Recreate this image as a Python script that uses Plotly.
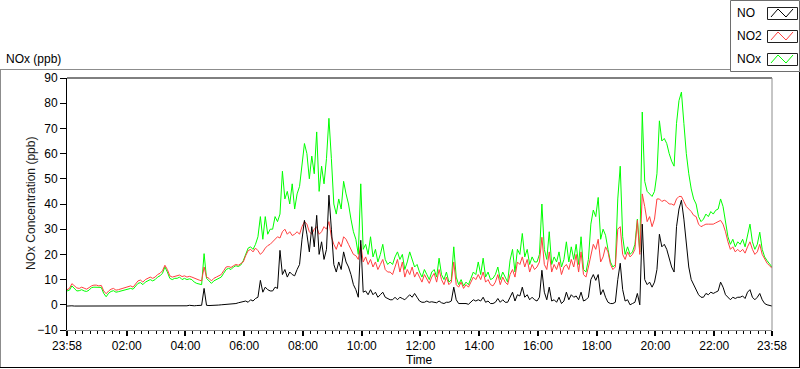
import pandas as pd
import plotly.graph_objects as go

# ---- data (5-minute samples, 23:58 -> 23:58 next day) ----
start_time = "2020-01-01 23:58"
sample_minutes = 5

no2 = [
    6, 6.5, 8.4, 7.5, 6.7, 6.5, 7, 6.6, 6.2, 6.8, 7.5, 7.8,
    7.8, 7.5, 7.7, 5.5, 4.4, 5.5, 6.2, 6.5, 5.8, 6, 6.3, 6.5,
    7, 7.3, 7.5, 7, 8.5, 9.5, 9.8, 9, 10, 10.5, 11, 10.5,
    11, 12, 12.5, 13.5, 15.7, 14, 11.5, 11, 11.3, 11.5, 11.8, 11.2,
    11.5, 11, 11.3, 11, 10.5, 10, 9.8, 9.5, 15, 11, 10.5, 9.5,
    10.5, 11, 11.5, 12, 13.5, 15, 15.2, 14.8, 15.5, 16, 15.7, 16.3,
    17, 19.5, 21.5, 22, 21, 22.5, 21.5, 20, 21, 22.5, 23.5, 24,
    25, 26, 27, 26.5, 29, 30, 28, 29, 27.5, 28, 29, 28,
    31, 33, 32, 29, 28, 30, 31, 28, 29, 31, 30, 33,
    27, 24, 22, 25, 23, 27, 26, 24, 22, 20, 19.5, 18,
    24, 17, 19, 16, 18, 15, 17, 14, 16, 18, 14, 13,
    13, 12, 15, 18, 13, 17, 11, 14, 12, 15, 11, 13,
    11, 9, 12, 10, 8.5, 11, 12.5, 9, 14, 10, 8, 11,
    8, 9, 17, 8, 7, 9, 6.5, 8, 7, 9, 11, 10,
    12, 10, 13, 9, 10, 8, 7.5, 9, 12, 8, 11, 9,
    8, 12, 14, 11, 17, 16, 19, 15, 18, 13, 16, 14,
    15, 17, 26.8, 16, 14, 21, 13, 16, 14, 17, 12, 15,
    16, 14, 18, 15, 20, 13, 21, 12, 11, 15, 20, 24,
    22, 26, 17, 19, 23, 21, 16, 14, 15, 30, 31, 20,
    18, 21, 19, 20, 22, 33.5, 20, 44, 39, 33, 35, 31,
    34, 42, 42, 41, 41.5, 41, 40, 40, 39.5, 42, 43, 43,
    41, 39, 38, 37, 35.5, 35, 32, 31, 31.5, 32, 32, 32,
    32, 32.5, 33, 33.5, 32, 29, 25, 22, 23, 21, 22, 21,
    22, 20.5, 23, 25, 22, 20, 21, 24, 20, 18, 16.5, 15.5, 14.5,
]

nox = [
    5.5, 5.8, 7.5, 6.5, 5.5, 5.6, 6, 5.5, 5.3, 5.8, 6.8, 7,
    7, 6.8, 6.9, 4.5, 3.2, 4.6, 5.3, 5.6, 5, 5.2, 5.5, 5.6,
    6, 6.2, 6.5, 6.2, 7.5, 8.5, 8.8, 8, 9, 9.5, 10, 9.5,
    10, 11, 11.5, 12.5, 15, 13, 10.5, 10, 10.5, 10.5, 11, 10,
    10.5, 10, 10.3, 10, 9, 8.5, 8.3, 8, 20.3, 10.5, 9.5, 8.5,
    9.5, 10, 10.5, 11, 12.5, 14, 14.5, 14, 15, 15.5, 15.2, 15.8,
    17.5, 20, 22.5, 23, 22, 24, 27, 35, 26, 35, 28, 30,
    30, 35, 33, 36, 53, 42, 45, 40, 48, 38, 44, 47,
    57, 64, 60, 50, 59, 52, 68.6, 45, 55, 48, 58, 74,
    58, 40, 36, 42, 38, 49, 44, 40, 34, 29, 26, 20,
    48, 22, 24, 20, 27, 19, 22, 17, 20, 24, 18, 16,
    17, 16, 19, 21, 18, 20, 14, 17, 21, 18, 15, 16,
    13, 11, 14, 12, 10, 13, 14, 11, 18.5, 12, 10, 13,
    9, 10, 23, 11, 8, 10, 7.5, 9, 8, 10.5, 13, 12,
    17, 12, 18.5, 11, 13, 10, 10.5, 12, 15, 10, 13, 11,
    9, 17.7, 22, 13, 22, 20, 28.3, 19, 22, 16, 19, 17,
    17, 20, 40, 22, 18, 29, 16, 19, 17, 21, 15, 18,
    25, 17, 23, 18, 24, 16, 27, 14, 13, 18, 32, 37.6,
    35, 42.6, 26, 30, 27.6, 22, 17, 15, 16, 42, 55, 27,
    20, 23, 20, 21, 24, 34, 21, 76.5, 49, 45, 44, 43,
    45, 52, 73, 65, 66, 64, 60, 57, 55, 72, 81, 84.4,
    72, 60, 52, 46, 42, 40, 35, 33, 34, 36, 35, 37,
    36, 37.5, 38, 42, 39, 33, 27, 24, 26, 23, 25, 24,
    26, 23, 28, 32, 25, 22, 24, 28.8, 22, 19, 17.5, 16, 15,
]

no = [
    -0.5, -0.3, -0.4, -0.5, -0.5, -0.4, -0.5, -0.5, -0.5, -0.5, -0.5, -0.4,
    -0.5, -0.5, -0.4, -0.5, -0.5, -0.3, -0.5, -0.5, -0.5, -0.4, -0.5, -0.5,
    -0.5, -0.4, -0.5, -0.5, -0.5, -0.5, -0.3, -0.5, -0.5, -0.4, -0.5, -0.5,
    -0.5, -0.4, -0.5, -0.3, -0.5, -0.5, -0.4, -0.5, -0.5, -0.5, -0.4, -0.5,
    -0.3, -0.4, -0.2, -0.4, -0.4, -0.3, -0.2, -0.2, 6.5, -0.2, -0.3, -0.3,
    -0.3, -0.2, -0.1, 0, 0.1, -0.1, 0, 0.2, 0.3, 0.5, 0.8, 1,
    1, 1.5, 1, 2, 1.5, 2.5, 3, 9.7, 5, 7, 6, 5.5,
    5.5, 7, 6.5, 21.6, 12, 14, 11, 13, 12, 11.5, 14, 16,
    26, 33.5, 28, 21, 31, 23, 35.5, 20, 25, 18, 22, 43.5,
    30, 16, 13, 17, 14, 21, 17, 15, 12, 8, 6, 3,
    25.6, 5, 5.5, 4, 6, 4, 5, 3, 4, 5, 3, 2.5,
    2, 2, 3, 2, 3, 2.5, 2, 3, 4, 3, 4.5, 3,
    1.5, 1, 1, 1.5, 1, 1.2, 1, 0.8, 1.5, 0.8, 0.5, 1,
    1, 1.5, 7, 2, 0.5, 0.5, 0.3, 0.5, 0.2, 1, 2, 1.5,
    2, 1.5, 3, 1, 1.5, 0.5, 0.5, 1, 2.5, 1, 2, 1,
    1, 3, 5, 1.5, 4, 3.5, 7, 3, 4, 2, 3, 2,
    1.5, 3, 13.7, 5, 2, 7, 1.5, 2, 1, 3, 0.5, 1.5,
    5, 2, 4, 3, 3.5, 2, 5, 1.5, 2, 3, 10, 12,
    9.7, 12, 4, 6, 3, 1, 0.5, 0.5, 1, 10, 16.5, 6,
    1.5, 2, 0, 0.5, 1, 4.5, 0, 32, 10, 8, 9, 7,
    9, 14, 28, 23, 24, 22, 18, 15, 13, 31, 38, 41.5,
    34, 24, 15, 10, 8, 6, 4, 3, 3, 4.5, 4, 5,
    4.5, 5, 5.5, 9, 7, 4, 3, 2, 3, 2.5, 3, 3,
    3.5, 2.5, 5, 6, 3, 2, 3, 4.5, 2, 0.5, 0, -0.3, -0.5,
]

x_tick_vals = ["2020-01-01 23:58", "2020-01-02 02:00", "2020-01-02 04:00",
               "2020-01-02 06:00", "2020-01-02 08:00", "2020-01-02 10:00",
               "2020-01-02 12:00", "2020-01-02 14:00", "2020-01-02 16:00",
               "2020-01-02 18:00", "2020-01-02 20:00", "2020-01-02 22:00",
               "2020-01-02 23:58"]
x_tick_text = ["23:58", "02:00", "04:00", "06:00", "08:00", "10:00", "12:00",
               "14:00", "16:00", "18:00", "20:00", "22:00", "23:58"]
y_tick_vals = [-10, 0, 10, 20, 30, 40, 50, 60, 70, 80, 90]

series_names = ["NO", "NO2", "NOx"]
series_colors = ["#000000", "#ff4040", "#00ff00"]

times = pd.date_range(start_time, periods=len(no), freq=f"{sample_minutes}min")

# ---- layout geometry (pixels) ----
W, H = 800, 369
L, R, T, B = 67, 28, 78, 39
PW, PH = W - L - R, H - T - B

def px(x):
    return (x - L) / PW

def py(y):
    return (H - B - y) / PH

FONT = "Liberation Sans"

fig = go.Figure()
for name, vals, col in [("NOx", nox, series_colors[2]),
                        ("NO2", no2, series_colors[1]),
                        ("NO", no, series_colors[0])]:
    fig.add_trace(go.Scatter(x=times, y=vals, mode="lines", name=name,
                             line=dict(color=col, width=1), showlegend=False))

shapes = []
# outer frame
shapes.append(dict(type="line", xref="paper", yref="paper", x0=px(0), x1=px(730), y0=py(69.5), y1=py(69.5),
                   line=dict(color="#8c8c8c", width=1)))
shapes.append(dict(type="line", xref="paper", yref="paper", x0=px(0.5), x1=px(0.5), y0=py(69.5), y1=py(367.5),
                   line=dict(color="#8c8c8c", width=1)))
shapes.append(dict(type="line", xref="paper", yref="paper", x0=px(0), x1=px(800), y0=py(367.5), y1=py(367.5),
                   line=dict(color="#000000", width=1)))
shapes.append(dict(type="line", xref="paper", yref="paper", x0=px(799.5), x1=px(799.5), y0=py(72), y1=py(367.5),
                   line=dict(color="#000000", width=1)))
# plot frame: top black, right gray
shapes.append(dict(type="line", xref="paper", yref="paper", x0=px(67), x1=px(772), y0=1, y1=1,
                   line=dict(color="#000000", width=1)))
shapes.append(dict(type="line", xref="paper", yref="paper", x0=1, x1=1, y0=0, y1=1,
                   line=dict(color="#8c8c8c", width=1)))
# legend box
shapes.append(dict(type="rect", xref="paper", yref="paper", x0=px(730.5), x1=px(799.5), y0=py(0.5), y1=py(71.5),
                   line=dict(color="#6e6e6e", width=1), fillcolor="white"))

annotations = []
leg_rows = [13, 36, 59]
for name, col, yc in zip(series_names, series_colors, leg_rows):
    annotations.append(dict(text=name, xref="paper", yref="paper", x=px(735), y=py(yc),
                            xanchor="left", yanchor="middle", showarrow=False,
                            font=dict(family=FONT, size=12, color="black")))
    bx0, bx1, by0, by1 = 767, 797, yc - 6, yc + 6
    shapes.append(dict(type="rect", xref="paper", yref="paper", x0=px(bx0 + 0.5), x1=px(bx1 + 0.5),
                       y0=py(by0 + 0.5), y1=py(by1 + 0.5), line=dict(color="#202020", width=1)))
    zx = [bx0 + 4, bx0 + 11, bx0 + 19, bx0 + 26]
    zy = [by1 - 2, by0 + 2, by1 - 2, by0 + 2]
    path = "M " + " L ".join(f"{px(a):.5f},{py(b):.5f}" for a, b in zip(zx, zy))
    shapes.append(dict(type="path", xref="paper", yref="paper", path=path,
                       line=dict(color=col, width=1)))

annotations.append(dict(text="NOx (ppb)", xref="paper", yref="paper", x=px(4), y=py(59),
                        xanchor="left", yanchor="middle", showarrow=False,
                        font=dict(family=FONT, size=12, color="black")))
annotations.append(dict(text="NOx Concentration (ppb)", xref="paper", yref="paper", x=px(31), y=py(204),
                        xanchor="center", yanchor="middle", textangle=-90, showarrow=False,
                        font=dict(family=FONT, size=12, color="#1a1a1a")))
annotations.append(dict(text="Time", xref="paper", yref="paper", x=px(419), y=py(360),
                        xanchor="center", yanchor="middle", showarrow=False,
                        font=dict(family=FONT, size=12, color="black")))

fig.update_layout(
    width=W, height=H,
    margin=dict(l=L, r=R, t=T, b=B, pad=0),
    paper_bgcolor="white", plot_bgcolor="white",
    font=dict(family=FONT, size=11, color="black"),
    shapes=shapes, annotations=annotations,
    hovermode=False,
    xaxis=dict(
        type="date",
        range=[x_tick_vals[0], x_tick_vals[-1]],
        tickmode="array", tickvals=x_tick_vals, ticktext=x_tick_text,
        ticks="outside", ticklen=5, tickwidth=2, tickcolor="black",
        showline=True, linecolor="#8c8c8c", linewidth=1,
        showgrid=False, zeroline=False,
        tickfont=dict(family=FONT, size=12, color="black"),
        minor=dict(tickmode="linear", tick0="2020-01-02 00:00", dtick=900000,
                   ticks="outside", ticklen=3, tickwidth=1, tickcolor="black", showgrid=False),
    ),
    yaxis=dict(
        range=[-10, 90],
        tickmode="array", tickvals=y_tick_vals,
        ticks="outside", ticklen=6, tickwidth=1, tickcolor="black",
        showline=True, linecolor="black", linewidth=1,
        showgrid=False, zeroline=False,
        tickfont=dict(family=FONT, size=12, color="black"),
    ),
)

fig.write_html("out.html",
               config={"displayModeBar": False, "staticPlot": True},
               post_script="document.body.style.margin='0px';document.body.style.overflow='hidden';")
